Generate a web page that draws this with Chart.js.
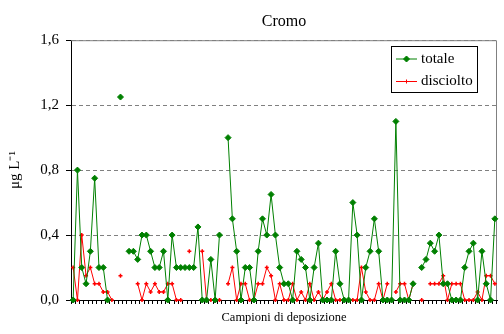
<!DOCTYPE html>
<html>
<head>
<meta charset="utf-8">
<script src="https://cdn.jsdelivr.net/npm/chart.js@4.4.0/dist/chart.umd.min.js"></script>
<style>
html,body{margin:0;padding:0;background:#fff;}
</style>
</head>
<body>
<canvas id="myChart" width="504" height="334"></canvas>
<script>
// 99 campioni, etichette non mostrate sull'asse
var campioni = [];
for (var i = 1; i <= 99; i++) campioni.push(String(i));

var totale = [0, 0.8, 0.2, 0.1, 0.3, 0.75, 0.2, 0.2, 0, null,
  null, 1.25, null, 0.3, 0.3, 0.25, 0.4, 0.4, 0.3, 0.2,
  0.2, 0.3, 0, 0.4, 0.2, 0.2, 0.2, 0.2, 0.2, 0.45,
  0, 0, 0.25, 0, 0.4, null, 1.0, 0.5, 0.3, 0,
  0.2, 0.2, 0, 0.3, 0.5, 0.4, 0.65, 0.4, 0.2, 0.1,
  0.1, 0, 0.3, 0.25, 0.2, 0, 0.2, 0.35, 0, 0,
  0, 0.3, 0.1, 0, 0, 0.6, 0.4, 0, 0.2, 0.3,
  0.5, 0.3, 0, 0, 0, 1.1, 0, 0, 0, 0.1,
  null, 0.2, 0.25, 0.35, 0.3, 0.4, 0.1, 0.1, 0, 0,
  0, 0.2, 0.3, 0.35, 0, 0.3, 0.1, 0, 0.5];

var disciolto = [0.2, 0, 0.4, 0.15, 0.2, 0.1, 0.1, 0.05, 0.05, 0,
  null, 0.15, null, null, null, 0.1, 0, 0.1, 0.05, 0.1,
  0.05, 0.05, 0.1, 0.1, 0, 0, null, 0.3, null, null,
  0.3, 0, 0, 0, 0, null, 0.1, 0.2, 0, 0.1,
  0.1, 0, 0, 0.1, 0.1, 0.2, 0.15, 0, 0.1, 0,
  0, 0.1, 0, 0.05, 0, 0.1, 0, 0.05, 0, 0.05,
  0.1, 0, 0, 0, 0, 0, 0, 0.2, 0.05, 0,
  0, 0.1, 0, 0.1, null, 0.05, 0.1, 0.1, 0, 0.1,
  null, 0, null, 0.1, 0.1, 0.1, 0.15, 0, 0.1, 0.1,
  0.1, 0, 0, 0, 0.05, 0, 0.15, 0.15, 0.1];

var yTicks = [0, 0.4, 0.8, 1.2, 1.6];

var serif = "'Liberation Serif', 'Times New Roman', serif";
Chart.defaults.font.family = serif;
Chart.defaults.color = '#000';

// bordo grigio sopra e a destra dell'area del grafico
var bordoArea = {
  id: 'bordoArea',
  beforeDatasetsDraw: function (chart) {
    var a = chart.chartArea, ctx = chart.ctx;
    ctx.save();
    ctx.strokeStyle = '#808080';
    ctx.lineWidth = 1;
    ctx.beginPath();
    ctx.moveTo(a.left, a.top + 0.5);
    ctx.lineTo(a.right - 0.5, a.top + 0.5);
    ctx.lineTo(a.right - 0.5, a.bottom);
    ctx.stroke();
    ctx.restore();
  }
};

// legenda con linea e marcatore, come in Excel
var legenda = {
  id: 'legenda',
  afterDraw: function (chart) {
    var ctx = chart.ctx;
    var x = 391, y = 46, w = 86, h = 46;
    ctx.save();
    ctx.fillStyle = '#fff';
    ctx.fillRect(x, y, w, h);
    ctx.strokeStyle = '#000';
    ctx.lineWidth = 1;
    ctx.strokeRect(x + 0.5, y + 0.5, w, h);
    chart.data.datasets.forEach(function (ds, k) {
      var cy = y + 13 + k * 22.5;
      ctx.strokeStyle = ds.borderColor;
      ctx.lineWidth = 1;
      ctx.beginPath();
      ctx.moveTo(x + 5, cy);
      ctx.lineTo(x + 26, cy);
      ctx.stroke();
      ctx.fillStyle = ds.pointBackgroundColor;
      ctx.strokeStyle = ds.pointBorderColor;
      Chart.helpers.drawPoint(ctx, {
        pointStyle: ds.pointStyle,
        radius: ds.pointRadius,
        borderWidth: ds.pointBorderWidth,
        rotation: 0
      }, x + 15.5, cy);
      ctx.fillStyle = '#000';
      ctx.font = '15px ' + serif;
      ctx.textBaseline = 'middle';
      ctx.textAlign = 'left';
      ctx.fillText(ds.label, x + 30, cy);
    });
    ctx.restore();
  }
};

var ctx = document.getElementById('myChart').getContext('2d');
var chart = new Chart(ctx, {
  type: 'line',
  data: {
    labels: campioni,
    datasets: [{
      label: 'totale',
      data: totale,
      borderColor: '#008000',
      borderWidth: 1,
      pointStyle: 'rectRot',
      pointRadius: 3,
      pointBorderWidth: 1,
      pointBackgroundColor: '#008000',
      pointBorderColor: '#008000',
      spanGaps: false,
      tension: 0
    }, {
      label: 'disciolto',
      data: disciolto,
      borderColor: '#ff0000',
      borderWidth: 1,
      pointStyle: 'cross',
      pointRadius: 2,
      pointBorderWidth: 1.5,
      pointBackgroundColor: '#ff0000',
      pointBorderColor: '#ff0000',
      spanGaps: false,
      tension: 0
    }]
  },
  options: {
    responsive: false,
    animation: false,
    clip: false,
    layout: { padding: { left: 0, right: 7, top: 0, bottom: 0 } },
    plugins: {
      legend: { display: false },
      tooltip: { enabled: false },
      title: {
        display: true,
        text: 'Cromo',
        fullSize: false,
        color: '#000',
        font: { size: 16, weight: 'normal', family: serif },
        padding: { top: 12, bottom: 9 }
      }
    },
    scales: {
      x: {
        offset: true,
        afterFit: function (s) { s.height = 34; },
        grid: {
          offset: true,
          drawOnChartArea: false,
          drawTicks: true,
          tickLength: 4,
          tickColor: '#000'
        },
        border: { color: '#000', width: 1 },
        ticks: { display: false, autoSkip: false },
        title: {
          display: true,
          text: 'Campioni di deposizione',
          color: '#000',
          font: { size: 12.5, family: serif },
          padding: { top: 0, bottom: 9 }
        }
      },
      y: {
        min: 0,
        max: 1.6,
        afterFit: function (s) { s.width = 71; },
        afterBuildTicks: function (s) {
          s.ticks = yTicks.map(function (v) { return { value: v }; });
        },
        grid: {
          color: '#808080',
          tickColor: '#000',
          tickLength: 5,
          lineWidth: 1
        },
        border: { color: '#000', width: 1, dash: [4, 3] },
        ticks: {
          padding: 7,
          color: '#000',
          font: { size: 15, family: serif },
          callback: function (v) { return v.toFixed(1).replace('.', ','); }
        },
        title: {
          display: true,
          text: 'μg L⁻¹',
          color: '#000',
          font: { size: 15, family: serif },
          padding: { top: 6, bottom: 0 }
        }
      }
    }
  },
  plugins: [bordoArea, legenda]
});
</script>
</body>
</html>
